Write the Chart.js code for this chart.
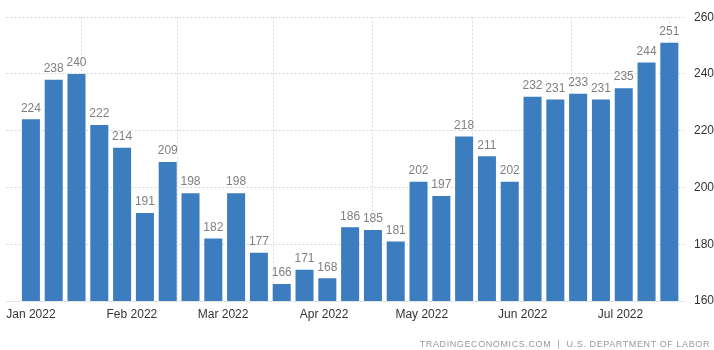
<!DOCTYPE html>
<html>
<head>
<meta charset="utf-8">
<script src="https://cdn.jsdelivr.net/npm/chart.js@4/dist/chart.umd.min.js"></script>
<style>
  html, body { margin: 0; padding: 0; background: #fff; }
  #wrap { position: relative; width: 714px; height: 350px; }
  #source {
    position: absolute; right: 4px; top: 339px;
    font: 9px "Liberation Sans", Arial, sans-serif; color: #9a9a9a;
    letter-spacing: 0.6px;
  }
</style>
</head>
<body>
<div id="wrap">
  <canvas id="myChart" width="714" height="350"></canvas>
  <div id="source">TRADINGECONOMICS.COM &nbsp;|&nbsp; U.S. DEPARTMENT OF LABOR</div>
</div>
<script>
// weekly values (week ending dates)
const weekDates = [
    '2022-01-01', '2022-01-08', '2022-01-15', '2022-01-22', '2022-01-29',
    '2022-02-05', '2022-02-12', '2022-02-19', '2022-02-26',
    '2022-03-05', '2022-03-12', '2022-03-19', '2022-03-26',
    '2022-04-02', '2022-04-09', '2022-04-16', '2022-04-23', '2022-04-30',
    '2022-05-07', '2022-05-14', '2022-05-21', '2022-05-28',
    '2022-06-04', '2022-06-11', '2022-06-18', '2022-06-25',
    '2022-07-02', '2022-07-09', '2022-07-16'
];
const claims = [
    224, 238, 240, 222, 214,
    191, 209, 198, 182,
    198, 177, 166, 171,
    168, 186, 185, 181, 202,
    197, 218, 211, 202,
    232, 231, 233, 231,
    235, 244, 251
];
const monthStarts = ['2022-01-01', '2022-02-01', '2022-03-01', '2022-04-01', '2022-05-01', '2022-06-01', '2022-07-01'];
const monthLabels = ['Jan 2022', 'Feb 2022', 'Mar 2022', 'Apr 2022', 'May 2022', 'Jun 2022', 'Jul 2022'];
const yTicks = [160, 180, 200, 220, 240, 260];

const day0 = Date.UTC(2022, 0, 1);
function dayOf(s) {
    const p = s.split('-');
    return (Date.UTC(+p[0], +p[1] - 1, +p[2]) - day0) / 86400000;
}

const monthDays = monthStarts.map(dayOf);
const points = weekDates.map((d, i) => ({ x: dayOf(d), y: claims[i] }));

const valueLabels = {
    id: 'valueLabels',
    afterDatasetsDraw(chart) {
        const ctx = chart.ctx;
        const meta = chart.getDatasetMeta(0);
        ctx.save();
        ctx.font = '12px "Liberation Sans", Arial, sans-serif';
        ctx.fillStyle = '#808080';
        ctx.textAlign = 'center';
        ctx.textBaseline = 'bottom';
        meta.data.forEach((bar, i) => {
            ctx.fillText(claims[i], bar.x, bar.y - 5);
        });
        ctx.restore();
    }
};

const ctx = document.getElementById('myChart').getContext('2d');
const myChart = new Chart(ctx, {
    type: 'bar',
    data: {
        datasets: [{
            data: points,
            backgroundColor: '#3b7dbf',
            barPercentage: 0.79,
            categoryPercentage: 1
        }]
    },
    options: {
        responsive: false,
        animation: false,
        layout: { padding: { top: 16, left: 6, right: 0, bottom: 0 } },
        plugins: {
            legend: { display: false },
            tooltip: { enabled: false }
        },
        scales: {
            x: {
                type: 'linear',
                min: -7.5,
                max: 200.5,
                offset: false,
                afterBuildTicks(scale) {
                    scale.ticks = monthDays.map(v => ({ value: v }));
                },
                afterFit(scale) { scale.height = 49; },
                ticks: {
                    autoSkip: false,
                    maxRotation: 0,
                    padding: 6,
                    color: '#333',
                    font: { size: 12, family: '"Liberation Sans", Arial, sans-serif' },
                    callback: (v) => monthLabels[monthDays.indexOf(v)] || ''
                },
                grid: {
                    color: '#dcdcdc',
                    drawTicks: false
                },
                border: { display: true, color: '#e4e4e4', dash: [2, 2] }
            },
            y: {
                position: 'right',
                min: 160,
                max: 260,
                afterBuildTicks(scale) {
                    scale.ticks = yTicks.map(v => ({ value: v }));
                },
                afterFit(scale) { scale.width = 30; },
                ticks: {
                    padding: 10,
                    color: '#333',
                    font: { size: 12, family: '"Liberation Sans", Arial, sans-serif' }
                },
                grid: {
                    color: '#d6d6d6',
                    drawTicks: false
                },
                border: { display: false, dash: [2, 2] }
            }
        }
    },
    plugins: [valueLabels]
});
</script>
</body>
</html>
